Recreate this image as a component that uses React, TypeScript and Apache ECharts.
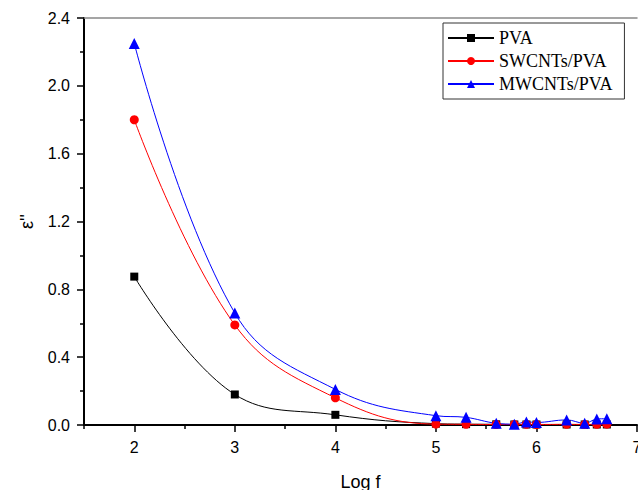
import React, { useEffect, useRef } from "react";
import * as echarts from "echarts";

const logF = [2, 3, 4, 5, 5.3, 5.6, 5.78, 5.9, 6, 6.3, 6.48, 6.6, 6.7];
const pva = [0.875, 0.18, 0.06, 0.008, 0.005, 0.004, 0.003, 0.003, 0.003, 0.003, 0.003, 0.003, 0.003];
const swcnt = [1.8, 0.59, 0.16, 0.005, 0.004, 0.003, 0.003, 0.004, 0.003, 0.004, 0.003, 0.004, 0.005];
const mwcnt = [2.25, 0.66, 0.21, 0.055, 0.045, 0.01, 0.005, 0.018, 0.015, 0.03, 0.01, 0.035, 0.037];
const xMajor = [2, 3, 4, 5, 6, 7];
const xMinor = [1.5, 2.5, 3.5, 4.5, 5.5, 6.5];

const pair = (ys: number[]) => logF.map((x, i) => [x, ys[i]]);

export default function App() {
  const ref = useRef<HTMLDivElement>(null);
  useEffect(() => {
    if (!ref.current) return;
    const chart = echarts.init(ref.current, null, { renderer: "svg" });
    const axisFont = { fontFamily: "Liberation Sans", fontSize: 16, color: "#000" };
    chart.setOption({
      animation: false,
      grid: { left: 84, right: 1, top: 18, bottom: 65, outerBoundsMode: "none", containLabel: false },
      legend: {
        orient: "vertical",
        left: 443,
        top: 23,
        itemWidth: 46,
        itemHeight: 10,
        itemGap: 5,
        padding: [6, 12, 6, 4],
        borderColor: "#333",
        borderWidth: 1,
        textStyle: { fontFamily: "Liberation Serif", fontSize: 18, color: "#000" },
        data: ["PVA", "SWCNTs/PVA", "MWCNTs/PVA"],
      },
      xAxis: [
        {
          type: "value",
          min: 1.5,
          max: 7,
          position: "bottom",
          name: "Log f",
          nameLocation: "middle",
          nameGap: 48,
          nameTextStyle: { fontFamily: "Liberation Sans", fontSize: 18, color: "#000" },
          axisLine: { show: true, lineStyle: { color: "#000", width: 2 } },
          axisTick: { show: true, inside: false, length: 7, customValues: xMajor, lineStyle: { color: "#000", width: 1.5 } },
          axisLabel: { ...axisFont, margin: 14, customValues: xMajor },
          splitLine: { show: false },
        },
        {
          type: "value",
          min: 1.5,
          max: 7,
          position: "bottom",
          axisLine: { show: false },
          axisTick: { show: true, inside: false, length: 4, customValues: xMinor, lineStyle: { color: "#000", width: 1.5 } },
          axisLabel: { show: false },
          splitLine: { show: false },
        },
        {
          type: "value",
          min: 1.5,
          max: 7,
          position: "top",
          axisLine: { show: true, lineStyle: { color: "#888", width: 1.5 } },
          axisTick: { show: false },
          axisLabel: { show: false },
          splitLine: { show: false },
        },
      ],
      yAxis: {
        type: "value",
        min: 0,
        max: 2.4,
        interval: 0.4,
        name: "ε''",
        nameLocation: "middle",
        nameGap: 48,
        nameRotate: 90,
        nameTextStyle: { fontFamily: "Liberation Sans", fontSize: 18, color: "#000" },
        axisLine: { show: true, lineStyle: { color: "#000", width: 2 } },
        axisTick: { show: true, inside: false, length: 7, lineStyle: { color: "#000", width: 1.5 } },
        minorTick: { show: true, splitNumber: 2, length: 4, lineStyle: { color: "#000", width: 1.5 } },
        axisLabel: { ...axisFont, margin: 14, formatter: (v: number) => v.toFixed(1) },
        splitLine: { show: false },
      },
      series: [
        {
          name: "PVA",
          type: "line",
          data: pair(pva),
          smooth: 0.4,
          symbol: "rect",
          symbolSize: 8,
          lineStyle: { color: "#000", width: 1 },
          itemStyle: { color: "#000" },
        },
        {
          name: "SWCNTs/PVA",
          type: "line",
          data: pair(swcnt),
          smooth: 0.4,
          symbol: "circle",
          symbolSize: 9,
          lineStyle: { color: "#ff0000", width: 1 },
          itemStyle: { color: "#ff0000" },
        },
        {
          name: "MWCNTs/PVA",
          type: "line",
          data: pair(mwcnt),
          smooth: 0.4,
          symbol: "triangle",
          symbolSize: 11,
          lineStyle: { color: "#0000ff", width: 1 },
          itemStyle: { color: "#0000ff" },
        },
      ],
    });
    return () => chart.dispose();
  }, []);
  return (
    <div
      ref={ref}
      style={{ position: "absolute", left: 0, top: 0, width: 638, height: 490, background: "#fff" }}
    />
  );
}
